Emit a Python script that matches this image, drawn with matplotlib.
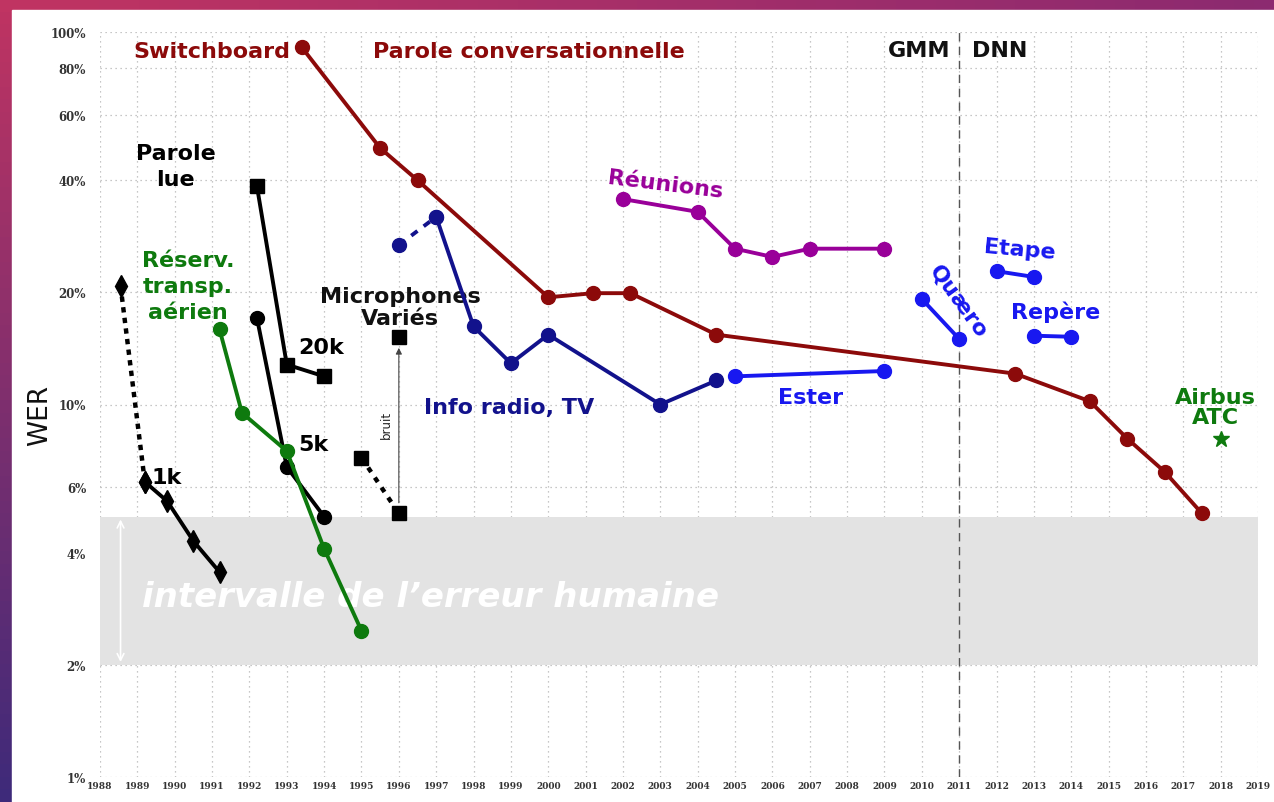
import numpy as np
import matplotlib
matplotlib.use('Agg')
import matplotlib.pyplot as plt
from matplotlib.patches import Rectangle

# --- data (WER in %) ---
years = list(range(1988, 2020))
yticks = [1, 2, 4, 6, 10, 20, 40, 60, 80, 100]

swb_years = [1993.4, 1995.5, 1996.5, 2000, 2001.2, 2002.2, 2004.5, 2012.5, 2014.5, 2015.5, 2016.5, 2017.5]
swb_wer = [91, 48.8, 40, 19.4, 19.9, 19.9, 15.4, 12.1, 10.2, 8.1, 6.6, 5.1]

reunions_years = [2002, 2004, 2005, 2006, 2007, 2009]
reunions_wer = [35.6, 32.9, 26.2, 24.9, 26.2, 26.2]

bn_early_years = [1996, 1997]
bn_early_wer = [26.8, 31.9]
bn_years = [1997, 1998, 1999, 2000, 2003, 2004.5]
bn_wer = [31.9, 16.2, 12.9, 15.4, 10.0, 11.6]

ester_years = [2005, 2009]
ester_wer = [11.9, 12.3]
quaero_years = [2010, 2011]
quaero_wer = [19.2, 15.0]
etape_years = [2012, 2013]
etape_wer = [22.8, 22.0]
repere_years = [2013, 2014]
repere_wer = [15.3, 15.2]
airbus_years = [2018]
airbus_wer = [8.1]

rm20k_years = [1992.2, 1993, 1994]
rm20k_wer = [38.6, 12.8, 11.9]
rm5k_years = [1992.2, 1993, 1994]
rm5k_wer = [17.1, 6.8, 5.0]
rm1k_early_years = [1988.55, 1989.2]
rm1k_early_wer = [20.8, 6.2]
rm1k_years = [1989.2, 1989.8, 1990.5, 1991.2]
rm1k_wer = [6.2, 5.5, 4.3, 3.55]

atis_years = [1991.2, 1991.8, 1993, 1994, 1995]
atis_wer = [15.9, 9.5, 7.5, 4.1, 2.47]

micro_noisy_years = [1995, 1996]
micro_noisy_wer = [7.2, 5.1]
micro_clean_years = [1996]
micro_clean_wer = [15.2]

human_low, human_high = 2, 5
dnn_year = 2011

# colours
RED = '#8c0a0a'
PURPLE = '#990099'
NAVY = '#12128c'
BLUE = '#1818f0'
GREEN = '#0e7a0e'

W, H = 1274, 803
fig = plt.figure(figsize=(W / 100, H / 100), dpi=100)

# background gradient + white panel
bg = fig.add_axes([0, 0, 1, 1], zorder=-10)
tl = np.array([192, 52, 98]) / 255
tr = np.array([140, 42, 112]) / 255
bl = np.array([62, 42, 122]) / 255
br = np.array([70, 40, 120]) / 255
u = np.linspace(0, 1, 64)[None, :, None]
v = np.linspace(0, 1, 64)[:, None, None]
grad = (1 - v) * ((1 - u) * tl + u * tr) + v * ((1 - u) * bl + u * br)
bg.imshow(grad, aspect='auto', extent=[0, 1, 0, 1])
bg.add_patch(Rectangle((12 / W, 0), 1, 1 - 11 / H, color='white'))
bg.set_xlim(0, 1)
bg.set_ylim(0, 1)
bg.axis('off')

ax = fig.add_axes([100 / W, 25 / H, 1158 / W, 745 / H])
ax.set_facecolor('none')
ax.set_yscale('log')
ax.set_xlim(1988, 2019)
ax.set_ylim(1, 100)
ax.set_xticks(years)
ax.set_xticklabels([str(y) for y in years], fontsize=6.5, family='DejaVu Serif',
                   fontweight='bold', color='#333333')
ax.set_yticks(yticks)
ax.set_yticklabels(['%d%%' % t for t in yticks], fontsize=8.5, family='DejaVu Serif',
                   fontweight='bold', color='#333333')
ax.minorticks_off()
ax.tick_params(length=0, pad=3)
ax.tick_params(axis='y', pad=10)
for s in ax.spines.values():
    s.set_visible(False)
ax.grid(True, color='#b5b5b5', linestyle=(0, (1, 3)), lw=0.9)
ax.set_axisbelow(True)

# human error interval
ax.axhspan(human_low, human_high, color='#e3e3e3', zorder=1.5, lw=0)
ax.annotate('', xy=(1988.55, human_low), xytext=(1988.55, human_high),
            arrowprops=dict(arrowstyle='<->', color='white', lw=1.2, mutation_scale=12), zorder=2)
ax.text(1996.86, 3.06, 'intervalle de l\u2019erreur humaine', color='white', fontsize=24.5,
        family='DejaVu Sans', fontweight='bold', style='italic', ha='center', va='center', zorder=2)

# GMM / DNN separation
ax.axvline(dnn_year, color='#555555', lw=1, linestyle=(0, (6, 4)), zorder=2)

lw = 2.8
ms = 10
ax.plot(swb_years, swb_wer, '-o', color=RED, lw=lw, ms=ms, zorder=5)
ax.plot(reunions_years, reunions_wer, '-o', color=PURPLE, lw=lw, ms=ms, zorder=5)
ax.plot(bn_early_years, bn_early_wer, 'o', color=NAVY, lw=lw, ms=ms, ls=(0, (2, 2)), zorder=5)
ax.plot(bn_years, bn_wer, '-o', color=NAVY, lw=lw, ms=ms, zorder=5)
for xs, ys in [(ester_years, ester_wer), (quaero_years, quaero_wer),
               (etape_years, etape_wer), (repere_years, repere_wer)]:
    ax.plot(xs, ys, '-o', color=BLUE, lw=lw, ms=ms, zorder=5)
ax.plot(airbus_years, airbus_wer, '*', color=GREEN, ms=12, zorder=5)

ax.plot(rm20k_years, rm20k_wer, '-s', color='black', lw=lw, ms=ms, zorder=5)
ax.plot(rm5k_years, rm5k_wer, '-o', color='black', lw=lw, ms=ms, zorder=5)
ax.plot(rm1k_early_years, rm1k_early_wer, 'd', color='black', lw=lw + 0.4, ms=ms + 1,
        ls=(0, (1.2, 1.2)), zorder=5)
ax.plot(rm1k_years, rm1k_wer, '-d', color='black', lw=lw, ms=ms + 1, zorder=5)
ax.plot(atis_years, atis_wer, '-o', color=GREEN, lw=lw, ms=ms, zorder=6)
ax.plot(micro_noisy_years, micro_noisy_wer, 's', color='black', lw=lw + 0.4, ms=ms,
        ls=(0, (1.2, 1.5)), zorder=5)
ax.plot(micro_clean_years, micro_clean_wer, 's', color='black', ms=ms, zorder=5)
ax.annotate('', xy=(micro_clean_years[0], micro_clean_wer[0] * 0.95),
            xytext=(micro_noisy_years[1], micro_noisy_wer[1] * 1.05),
            arrowprops=dict(arrowstyle='-|>', color='#444444', lw=0.8, mutation_scale=9), zorder=4)

# labels
fs = 16
bold = dict(family='DejaVu Sans', fontweight='bold')
ax.text(1993.09, 88.9, 'Switchboard', color=RED, fontsize=fs, ha='right', va='center', **bold)
ax.text(1995.31, 88.9, 'Parole conversationnelle', color=RED, fontsize=fs, ha='left', va='center', **bold)
ax.text(2010.76, 89.5, 'GMM', color='#111111', fontsize=fs, ha='right', va='center', **bold)
ax.text(2011.35, 89.5, 'DNN', color='#111111', fontsize=fs, ha='left', va='center', **bold)
ax.text(1990.03, 43.7, 'Parole\nlue', color='black', fontsize=fs, ha='center', va='center',
        linespacing=1.35, **bold)
ax.text(1990.36, 20.8, 'Réserv.\ntransp.\naérien', color=GREEN, fontsize=fs, ha='center',
        va='center', linespacing=1.35, **bold)
ax.text(1996.03, 18.3, 'Microphones\nVariés', color='#111111', fontsize=fs, ha='center',
        va='center', linespacing=1.1, **bold)
ax.text(1993.3, 14.3, '20k', color='black', fontsize=fs, ha='left', va='center', **bold)
ax.text(1993.3, 7.83, '5k', color='black', fontsize=fs, ha='left', va='center', **bold)
ax.text(1989.39, 6.39, '1k', color='black', fontsize=fs, ha='left', va='center', **bold)
ax.text(1995.66, 8.87, 'bruit', color='#222222', fontsize=8.5, rotation=90, ha='center', va='center')
ax.text(1996.67, 9.85, 'Info radio, TV', color=NAVY, fontsize=fs, ha='left', va='center', **bold)
ax.text(2003.13, 39.1, 'Réunions', color=PURPLE, fontsize=fs, ha='center', va='center',
        rotation=-7, **bold)
ax.text(2007.01, 10.5, 'Ester', color=BLUE, fontsize=fs, ha='center', va='center', **bold)
ax.text(2010.97, 19.0, 'Quæro', color=BLUE, fontsize=fs, ha='center', va='center',
        rotation=-54, **bold)
ax.text(2012.63, 26.2, 'Etape', color=BLUE, fontsize=fs, ha='center', va='center',
        rotation=-5, **bold)
ax.text(2013.57, 17.8, 'Repère', color=BLUE, fontsize=fs, ha='center', va='center', **bold)
ax.text(2017.85, 9.85, 'Airbus\nATC', color=GREEN, fontsize=fs, ha='center', va='center',
        linespacing=1.05, **bold)

fig.text(40 / W, 1 - 415 / H, 'WER', rotation=90, fontsize=19, family='DejaVu Sans',
         color='#111111', ha='center', va='center')

fig.savefig('out.png', dpi=100)
